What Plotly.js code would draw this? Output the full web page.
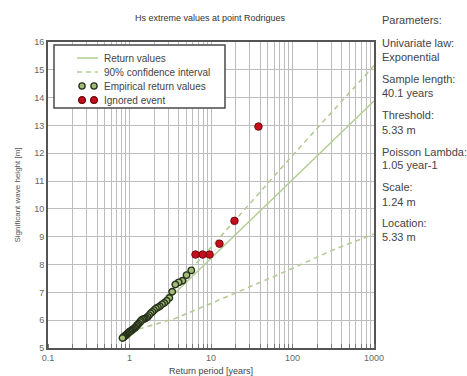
<!DOCTYPE html>
<html>
<head>
<meta charset="utf-8">
<script src="https://cdn.plot.ly/plotly-3.0.1.min.js"></script>
<style>
  html, body { margin: 0; padding: 0; background: #fff; }
  #chart { width: 467px; height: 376px; }
</style>
</head>
<body>
<div id="chart"></div>
<script>
// Fitted return-value curve (exponential law) and its 90% confidence band
const returnPeriods = [0.95, 1000];
const returnValues = [5.33, 13.88];

const upperPeriods = [1.0, 10, 100, 1000];
const upperValues = [5.42, 8.62, 11.92, 15.15];

const lowerPeriods = [1.3, 3.7, 10, 30, 100, 300, 1000];
const lowerValues = [5.68, 6.07, 6.6, 7.21, 7.86, 8.5, 9.1];

// Empirical return values (events kept in the fit)
const empPeriods = [5.73, 5.01, 4.46, 4.01, 3.65, 3.34, 3.08, 2.86, 2.67, 2.51,
  2.36, 2.23, 2.11, 2.0, 1.91, 1.82, 1.74, 1.67, 1.6, 1.54,
  1.49, 1.43, 1.38, 1.34, 1.29, 1.25, 1.22, 1.18, 1.15, 1.11,
  1.08, 1.06, 1.03, 1.0, 0.98, 0.95, 0.93, 0.91, 0.89, 0.87,
  0.85, 0.84, 0.82];
const empValues = [7.79, 7.62, 7.42, 7.36, 7.28, 7.02, 6.80, 6.70, 6.62, 6.57,
  6.50, 6.46, 6.42, 6.36, 6.30, 6.25, 6.18, 6.12, 6.08, 6.05,
  6.04, 6.02, 5.98, 5.93, 5.87, 5.83, 5.79, 5.74, 5.71, 5.68,
  5.65, 5.63, 5.61, 5.59, 5.56, 5.53, 5.50, 5.47, 5.45, 5.42,
  5.40, 5.38, 5.36];

// Largest events, excluded from the fit
const ignoredPeriods = [38.2, 19.4, 12.7, 9.6, 7.9, 6.45];
const ignoredValues = [12.96, 9.57, 8.75, 8.36, 8.36, 8.36];

// Fit parameters listed beside the chart
const paramLines = [
  ["Parameters:", 20],
  ["Univariate law:", 43], ["Exponential", 57],
  ["Sample length:", 79], ["40.1 years", 93],
  ["Threshold:", 115], ["5.33 m", 130],
  ["Poisson Lambda:", 152], ["1.05 year-1", 165],
  ["Scale:", 187], ["1.24 m", 202],
  ["Location:", 223], ["5.33 m", 237]
];

// Legend entries
const legendLabels = ["Return values", "90% confidence interval",
  "Empirical return values", "Ignored event"];

const xTickVals = [0.1, 1, 10, 100, 1000];
const xTickText = ["0.1", "1", "10", "100", "1000"];
const yTickVals = [5, 6, 7, 8, 9, 10, 11, 12, 13, 14, 15, 16];

const FONT = "Arial, Liberation Sans, sans-serif";
const lineGreen = "#b4cc94";
const ciDash = "5px,4px";
const empFill = "#a2bc78", empEdge = "#26321b";
const redFill = "#c40f1c", redEdge = "#6e0a10";

const W = 467, H = 376;
const M = { l: 48, r: 93, t: 42, b: 28 };
const plotW = W - M.l - M.r, plotH = H - M.t - M.b;
// pixel position -> paper fraction
const px = v => (v - M.l) / plotW;
const py = v => (H - M.b - v) / plotH;

const traces = [
  {
    x: returnPeriods, y: returnValues, mode: "lines",
    line: { color: lineGreen, width: 1.5 }
  },
  {
    x: upperPeriods, y: upperValues, mode: "lines",
    line: { color: lineGreen, width: 1.6, dash: ciDash }
  },
  {
    x: lowerPeriods, y: lowerValues, mode: "lines",
    line: { color: lineGreen, width: 1.6, dash: ciDash }
  },
  {
    x: empPeriods, y: empValues, mode: "markers",
    marker: { color: empFill, size: 6.5, line: { color: empEdge, width: 1.4 } }
  },
  {
    x: ignoredPeriods, y: ignoredValues, mode: "markers",
    marker: { color: redFill, size: 7.5, line: { color: redEdge, width: 1 } }
  }
];

// Legend box drawn in paper space: frame, line samples, two markers per point series
const shapes = [];
const annotations = [];
const legBox = { l: 54, t: 45, r: 225, b: 108 };
const rowY = [58, 72, 86, 100];
shapes.push({
  type: "rect", xref: "paper", yref: "paper", layer: "above",
  x0: px(legBox.l), x1: px(legBox.r), y0: py(legBox.b), y1: py(legBox.t),
  fillcolor: "#fff", line: { color: "#4a4a4a", width: 1.5 }
});
shapes.push({
  type: "line", xref: "paper", yref: "paper", layer: "above",
  x0: px(77), x1: px(98), y0: py(rowY[0]), y1: py(rowY[0]),
  line: { color: lineGreen, width: 1.5 }
});
shapes.push({
  type: "line", xref: "paper", yref: "paper", layer: "above",
  x0: px(77), x1: px(98), y0: py(rowY[1]), y1: py(rowY[1]),
  line: { color: lineGreen, width: 1.5, dash: ciDash }
});
[[rowY[2], empFill, empEdge, 3.1], [rowY[3], redFill, redEdge, 3.4]].forEach(([yy, fc, ec, r]) => {
  [82, 94].forEach(cx => {
    shapes.push({
      type: "circle", xref: "paper", yref: "paper", layer: "above",
      x0: px(cx - r), x1: px(cx + r), y0: py(yy + r), y1: py(yy - r),
      fillcolor: fc, line: { color: ec, width: 1.3 }
    });
  });
});
legendLabels.forEach((txt, i) => {
  annotations.push({
    text: txt, xref: "paper", yref: "paper",
    x: px(102), y: py(rowY[i]), xanchor: "left", yanchor: "middle",
    showarrow: false, font: { family: FONT, size: 10, color: "#444" }
  });
});

paramLines.forEach(([txt, ypx]) => {
  annotations.push({
    text: txt, xref: "paper", yref: "paper",
    x: px(380), y: py(ypx), xanchor: "left", yanchor: "middle",
    showarrow: false, font: { family: FONT, size: 11, color: "#444" }
  });
});

const layout = {
  width: W, height: H,
  margin: M,
  paper_bgcolor: "#fff", plot_bgcolor: "#fff",
  showlegend: false,
  title: {
    text: "Hs extreme values at point Rodrigues",
    x: 0.497, xref: "paper", y: 1 - 18 / H, yref: "container",
    xanchor: "center", yanchor: "middle",
    font: { family: FONT, size: 9, color: "#333" }
  },
  xaxis: {
    type: "log", range: [-1, 3],
    tickvals: xTickVals, ticktext: xTickText,
    tickfont: { family: FONT, size: 9, color: "#666" },
    showgrid: true, gridcolor: "#bdbdbd", gridwidth: 1,
    minor: { dtick: "D1", showgrid: true, gridcolor: "#bdbdbd", gridwidth: 1,
             ticks: "inside", ticklen: 4, tickcolor: "#777" },
    showline: true, linecolor: "#555", linewidth: 2, mirror: true,
    ticks: "", zeroline: false,
    title: { text: "Return period [years]", standoff: 6,
             font: { family: FONT, size: 9, color: "#444" } }
  },
  yaxis: {
    range: [5, 16], tickvals: yTickVals,
    tickfont: { family: FONT, size: 9, color: "#666" },
    showgrid: true, gridcolor: "#bdbdbd", gridwidth: 1,
    showline: true, linecolor: "#555", linewidth: 2, mirror: true,
    ticks: "", zeroline: false,
    title: { text: "Significant wave height [m]", standoff: 12,
             font: { family: FONT, size: 8, color: "#555" } }
  },
  shapes: shapes,
  annotations: annotations
};

Plotly.newPlot("chart", traces, layout, { displayModeBar: false, staticPlot: true });
</script>
</body>
</html>
